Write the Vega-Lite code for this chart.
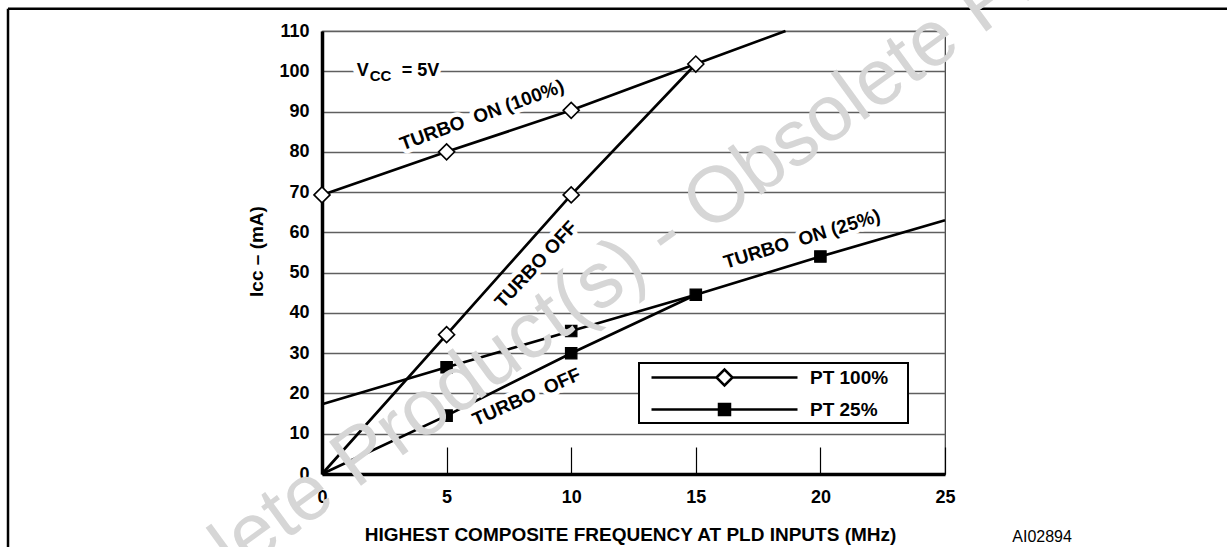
{
  "$schema": "https://vega.github.io/schema/vega-lite/v6.json",
  "width": 623,
  "height": 443,
  "autosize": "none",
  "padding": {"left": 322, "top": 31, "right": 282, "bottom": 73},
  "background": "white",
  "config": {
    "font": "Liberation Sans",
    "view": {"stroke": "#3a3a3a", "strokeWidth": 1.2}
  },
  "datasets": {
    "curves": [
      {"curve": "on100", "pt": "PT 100%", "f": 0, "icc": 69.3, "m": 1},
      {"curve": "on100", "pt": "PT 100%", "f": 5, "icc": 80, "m": 1},
      {"curve": "on100", "pt": "PT 100%", "f": 10, "icc": 90.3, "m": 1},
      {"curve": "on100", "pt": "PT 100%", "f": 15, "icc": 101.8, "m": 1},
      {"curve": "on100", "pt": "PT 100%", "f": 18.6, "icc": 110, "m": 0},
      {"curve": "off100", "pt": "PT 100%", "f": 0, "icc": 0, "m": 0},
      {"curve": "off100", "pt": "PT 100%", "f": 5, "icc": 34.6, "m": 1},
      {"curve": "off100", "pt": "PT 100%", "f": 10, "icc": 69.3, "m": 1},
      {"curve": "off100", "pt": "PT 100%", "f": 15, "icc": 101.8, "m": 0},
      {"curve": "on25", "pt": "PT 25%", "f": 0, "icc": 17.3, "m": 0},
      {"curve": "on25", "pt": "PT 25%", "f": 5, "icc": 26.5, "m": 1},
      {"curve": "on25", "pt": "PT 25%", "f": 10, "icc": 35.5, "m": 1},
      {"curve": "on25", "pt": "PT 25%", "f": 15, "icc": 44.5, "m": 1},
      {"curve": "on25", "pt": "PT 25%", "f": 20, "icc": 54, "m": 1},
      {"curve": "on25", "pt": "PT 25%", "f": 25, "icc": 63, "m": 0},
      {"curve": "off25", "pt": "PT 25%", "f": 0, "icc": 0, "m": 0},
      {"curve": "off25", "pt": "PT 25%", "f": 5, "icc": 14.5, "m": 1},
      {"curve": "off25", "pt": "PT 25%", "f": 10, "icc": 30, "m": 1},
      {"curve": "off25", "pt": "PT 25%", "f": 15, "icc": 44.5, "m": 0}
    ],
    "notes": [
      {"key": "on100", "label": "TURBO\u00a0 ON (100%)", "f": 6.42, "icc": 89.1},
      {"key": "off100", "label": "TURBO OFF", "f": 8.59, "icc": 52.0},
      {"key": "off25", "label": "TURBO\u00a0 OFF", "f": 8.21, "icc": 19.1},
      {"key": "on25", "label": "TURBO\u00a0 ON (25%)", "f": 19.26, "icc": 58.3},
      {"key": "vcc", "label": "VCC = 5V", "f": 1.39, "icc": 100}
    ]
  },
  "layer": [
    {
      "data": {"values": [{}]},
      "mark": {"type": "rule", "stroke": "black", "strokeWidth": 2.5},
      "encoding": {
        "x": {"datum": -12.6, "type": "quantitative", "scale": {"domain": [0, 25], "nice": false}},
        "x2": {"datum": 37},
        "y": {"datum": 115.5, "type": "quantitative", "scale": {"domain": [0, 110], "nice": false}}
      }
    },
    {
      "data": {"values": [{}]},
      "mark": {"type": "rule", "stroke": "black", "strokeWidth": 2.5},
      "encoding": {
        "x": {"datum": -12.6, "type": "quantitative", "scale": {"domain": [0, 25], "nice": false}},
        "y": {"datum": 115.5, "type": "quantitative", "scale": {"domain": [0, 110], "nice": false}},
        "y2": {"datum": -20}
      }
    },
    {
      "data": {"name": "notes"},
      "transform": [{"filter": "datum.key === 'on100'"}],
      "mark": {"type": "text", "angle": -20, "fontSize": 19, "fontWeight": "bold", "align": "center", "baseline": "middle", "fill": "white", "stroke": "white", "strokeWidth": 9, "strokeJoin": "round"},
      "encoding": {
        "x": {"field": "f", "type": "quantitative", "scale": {"domain": [0, 25], "nice": false}},
        "y": {"field": "icc", "type": "quantitative", "scale": {"domain": [0, 110], "nice": false}},
        "text": {"field": "label"}
      }
    },
    {
      "data": {"name": "notes"},
      "transform": [{"filter": "datum.key === 'off100'"}],
      "mark": {"type": "text", "angle": -47, "fontSize": 19, "fontWeight": "bold", "align": "center", "baseline": "middle", "fill": "white", "stroke": "white", "strokeWidth": 9, "strokeJoin": "round"},
      "encoding": {
        "x": {"field": "f", "type": "quantitative", "scale": {"domain": [0, 25], "nice": false}},
        "y": {"field": "icc", "type": "quantitative", "scale": {"domain": [0, 110], "nice": false}},
        "text": {"field": "label"}
      }
    },
    {
      "data": {"name": "notes"},
      "transform": [{"filter": "datum.key === 'off25'"}],
      "mark": {"type": "text", "angle": -24, "fontSize": 19, "fontWeight": "bold", "align": "center", "baseline": "middle", "fill": "white", "stroke": "white", "strokeWidth": 9, "strokeJoin": "round"},
      "encoding": {
        "x": {"field": "f", "type": "quantitative", "scale": {"domain": [0, 25], "nice": false}},
        "y": {"field": "icc", "type": "quantitative", "scale": {"domain": [0, 110], "nice": false}},
        "text": {"field": "label"}
      }
    },
    {
      "data": {"name": "notes"},
      "transform": [{"filter": "datum.key === 'on25'"}],
      "mark": {"type": "text", "angle": -17, "fontSize": 19, "fontWeight": "bold", "align": "center", "baseline": "middle", "fill": "white", "stroke": "white", "strokeWidth": 9, "strokeJoin": "round"},
      "encoding": {
        "x": {"field": "f", "type": "quantitative", "scale": {"domain": [0, 25], "nice": false}},
        "y": {"field": "icc", "type": "quantitative", "scale": {"domain": [0, 110], "nice": false}},
        "text": {"field": "label"}
      }
    },
    {
      "data": {"name": "notes"},
      "transform": [{"filter": "datum.key === 'vcc'"}],
      "mark": {"type": "text", "fontSize": 18, "fontWeight": "bold", "align": "left", "baseline": "middle", "fill": "white", "stroke": "white", "strokeWidth": 12, "strokeJoin": "round"},
      "encoding": {
        "x": {"field": "f", "type": "quantitative", "scale": {"domain": [0, 25], "nice": false}},
        "y": {"field": "icc", "type": "quantitative", "scale": {"domain": [0, 110], "nice": false}},
        "text": {"field": "label"}
      }
    },
    {
      "data": {"name": "curves"},
      "mark": {"type": "line", "stroke": "black", "strokeWidth": 2.7},
      "encoding": {
        "x": {
          "field": "f", "type": "quantitative",
          "scale": {"domain": [0, 25], "nice": false},
          "axis": {
            "title": "HIGHEST COMPOSITE FREQUENCY AT PLD INPUTS (MHz)",
            "values": [0, 5, 10, 15, 20, 25], "format": "d",
            "grid": false,
            "domainColor": "black", "domainWidth": 3.5,
            "tickColor": "black", "tickWidth": 1.2, "tickSize": -27,
            "labelPadding": 41, "labelFontSize": 18, "labelFontWeight": "bold", "labelColor": "black",
            "labelFlush": false, "labelOverlap": false,
            "titleFontSize": 19, "titleFontWeight": "bold", "titleColor": "black",
            "titleX": 308, "titleY": 66, "titleBaseline": "alphabetic", "titleAlign": "center"
          }
        },
        "y": {
          "field": "icc", "type": "quantitative",
          "scale": {"domain": [0, 110], "nice": false},
          "axis": {
            "title": "Icc – (mA)",
            "values": [0, 10, 20, 30, 40, 50, 60, 70, 80, 90, 100, 110], "format": "d",
            "grid": true, "gridColor": "#5f5f5f", "gridWidth": 1.3,
            "ticks": false,
            "domainColor": "black", "domainWidth": 3.5,
            "labelPadding": 13, "labelFontSize": 18, "labelFontWeight": "bold", "labelColor": "black",
            "labelFlush": false, "labelOverlap": false,
            "titleFontSize": 19, "titleFontWeight": "bold", "titleColor": "black",
            "titleX": -66, "titleY": 220, "titleAngle": -90, "titleAlign": "center", "titleBaseline": "middle"
          }
        },
        "detail": {"field": "curve"},
        "order": {"field": "f"}
      }
    },
    {
      "data": {"name": "curves"},
      "transform": [{"filter": "datum.m == 1 && datum.pt === 'PT 100%'"}],
      "mark": {"type": "point", "shape": "diamond", "filled": true, "fill": "white", "stroke": "black", "strokeWidth": 1.6, "opacity": 1, "size": 256},
      "encoding": {
        "x": {"field": "f", "type": "quantitative", "scale": {"domain": [0, 25], "nice": false}},
        "y": {"field": "icc", "type": "quantitative", "scale": {"domain": [0, 110], "nice": false}}
      }
    },
    {
      "data": {"name": "curves"},
      "transform": [{"filter": "datum.m == 1 && datum.pt === 'PT 25%'"}],
      "mark": {"type": "point", "shape": "square", "filled": true, "fill": "black", "stroke": "black", "strokeWidth": 1.2, "opacity": 1, "size": 130},
      "encoding": {
        "x": {"field": "f", "type": "quantitative", "scale": {"domain": [0, 25], "nice": false}},
        "y": {"field": "icc", "type": "quantitative", "scale": {"domain": [0, 110], "nice": false}}
      }
    },
    {
      "data": {"name": "curves"},
      "transform": [{"filter": "false"}],
      "mark": {"type": "point", "filled": true, "stroke": "black", "strokeWidth": 2.5, "opacity": 1, "size": 400},
      "encoding": {
        "x": {"field": "f", "type": "quantitative", "scale": {"domain": [0, 25], "nice": false}},
        "y": {"field": "icc", "type": "quantitative", "scale": {"domain": [0, 110], "nice": false}},
        "shape": {
          "field": "pt", "type": "nominal",
          "scale": {
            "domain": ["PT 100%", "PT 25%"],
            "range": [
              "M-7.3,0H-0.8M0.8,0H7.3M-0.8,0L0,-0.8L0.8,0L0,0.8ZM17.5,0",
              "M-7.3,0H7.3M-0.55,-0.55H0.55V0.55H-0.55ZM17.5,0"
            ]
          },
          "legend": {
            "title": null,
            "orient": "none", "legendX": 317, "legendY": 332,
            "padding": 3,
            "fillColor": "white", "strokeColor": "black",
            "symbolSize": 400, "symbolStrokeWidth": 2.5, "symbolStrokeColor": "black", "symbolOpacity": 1,
            "symbolOffset": 71,
            "labelFontSize": 19, "labelFontWeight": "bold", "labelColor": "black",
            "labelOffset": 74,
            "rowPadding": 7,
            "encode": {"legend": {"update": {"strokeWidth": {"value": 2}}}}
          }
        },
        "fill": {
          "field": "pt", "type": "nominal",
          "scale": {"domain": ["PT 100%", "PT 25%"], "range": ["white", "black"]},
          "legend": {
            "title": null,
            "orient": "none", "legendX": 317, "legendY": 332,
            "padding": 3,
            "fillColor": "white", "strokeColor": "black",
            "symbolSize": 400, "symbolStrokeWidth": 2.5, "symbolStrokeColor": "black", "symbolOpacity": 1,
            "symbolOffset": 71,
            "labelFontSize": 19, "labelFontWeight": "bold", "labelColor": "black",
            "labelOffset": 74,
            "rowPadding": 7,
            "encode": {"legend": {"update": {"strokeWidth": {"value": 2}}}}
          }
        }
      }
    },
    {
      "data": {"name": "notes"},
      "transform": [{"filter": "datum.key === 'on100'"}],
      "mark": {"type": "text", "angle": -20, "fontSize": 19, "fontWeight": "bold", "align": "center", "baseline": "middle", "fill": "black"},
      "encoding": {
        "x": {"field": "f", "type": "quantitative", "scale": {"domain": [0, 25], "nice": false}},
        "y": {"field": "icc", "type": "quantitative", "scale": {"domain": [0, 110], "nice": false}},
        "text": {"field": "label"}
      }
    },
    {
      "data": {"name": "notes"},
      "transform": [{"filter": "datum.key === 'off100'"}],
      "mark": {"type": "text", "angle": -47, "fontSize": 19, "fontWeight": "bold", "align": "center", "baseline": "middle", "fill": "black"},
      "encoding": {
        "x": {"field": "f", "type": "quantitative", "scale": {"domain": [0, 25], "nice": false}},
        "y": {"field": "icc", "type": "quantitative", "scale": {"domain": [0, 110], "nice": false}},
        "text": {"field": "label"}
      }
    },
    {
      "data": {"name": "notes"},
      "transform": [{"filter": "datum.key === 'off25'"}],
      "mark": {"type": "text", "angle": -24, "fontSize": 19, "fontWeight": "bold", "align": "center", "baseline": "middle", "fill": "black"},
      "encoding": {
        "x": {"field": "f", "type": "quantitative", "scale": {"domain": [0, 25], "nice": false}},
        "y": {"field": "icc", "type": "quantitative", "scale": {"domain": [0, 110], "nice": false}},
        "text": {"field": "label"}
      }
    },
    {
      "data": {"name": "notes"},
      "transform": [{"filter": "datum.key === 'on25'"}],
      "mark": {"type": "text", "angle": -17, "fontSize": 19, "fontWeight": "bold", "align": "center", "baseline": "middle", "fill": "black"},
      "encoding": {
        "x": {"field": "f", "type": "quantitative", "scale": {"domain": [0, 25], "nice": false}},
        "y": {"field": "icc", "type": "quantitative", "scale": {"domain": [0, 110], "nice": false}},
        "text": {"field": "label"}
      }
    },
    {
      "data": {"name": "notes"},
      "transform": [{"filter": "datum.key === 'vcc'"}],
      "mark": {"type": "text", "text": "V", "fontSize": 18, "fontWeight": "bold", "align": "left", "baseline": "middle", "fill": "black"},
      "encoding": {
        "x": {"field": "f", "type": "quantitative", "scale": {"domain": [0, 25], "nice": false}},
        "y": {"field": "icc", "type": "quantitative", "scale": {"domain": [0, 110], "nice": false}}
      }
    },
    {
      "data": {"name": "notes"},
      "transform": [{"filter": "datum.key === 'vcc'"}],
      "mark": {"type": "text", "text": "CC", "fontSize": 15, "fontWeight": "bold", "align": "left", "baseline": "middle", "fill": "black", "dx": 13, "dy": 5},
      "encoding": {
        "x": {"field": "f", "type": "quantitative", "scale": {"domain": [0, 25], "nice": false}},
        "y": {"field": "icc", "type": "quantitative", "scale": {"domain": [0, 110], "nice": false}}
      }
    },
    {
      "data": {"name": "notes"},
      "transform": [{"filter": "datum.key === 'vcc'"}],
      "mark": {"type": "text", "text": "= 5V", "fontSize": 18, "fontWeight": "bold", "align": "left", "baseline": "middle", "fill": "black", "dx": 45},
      "encoding": {
        "x": {"field": "f", "type": "quantitative", "scale": {"domain": [0, 25], "nice": false}},
        "y": {"field": "icc", "type": "quantitative", "scale": {"domain": [0, 110], "nice": false}}
      }
    },
    {
      "data": {"values": [{}]},
      "mark": {"type": "text", "text": "AI02894", "fontSize": 16, "align": "left", "baseline": "alphabetic", "fill": "black"},
      "encoding": {
        "x": {"datum": 27.7, "type": "quantitative", "scale": {"domain": [0, 25], "nice": false}},
        "y": {"datum": -16.9, "type": "quantitative", "scale": {"domain": [0, 110], "nice": false}}
      }
    },
    {
      "data": {"values": [{}]},
      "mark": {"type": "text", "text": "Obsolete Product(s) - Obsolete Product(s)", "fontSize": 79, "angle": -36, "align": "center", "baseline": "middle", "fill": "#d6d6d6"},
      "encoding": {
        "x": {"datum": 13.76, "type": "quantitative", "scale": {"domain": [0, 25], "nice": false}},
        "y": {"datum": 59.3, "type": "quantitative", "scale": {"domain": [0, 110], "nice": false}}
      }
    }
  ]
}
